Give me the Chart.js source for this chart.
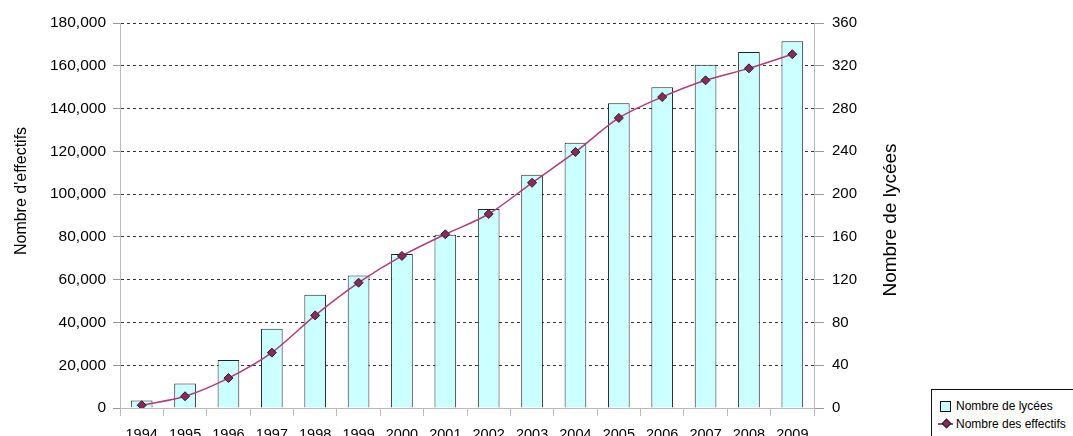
<!DOCTYPE html>
<html>
<head>
<meta charset="utf-8">
<script src="https://cdn.jsdelivr.net/npm/chart.js@4"></script>
<style>
    html, body { margin: 0; padding: 0; background: #fff; overflow: hidden; }
    body { width: 1073px; height: 436px; position: relative; }
    #wrap { position: absolute; left: 0; top: 0; width: 1073px; height: 450px; }
    .legend {
        position: absolute; left: 931px; top: 389px; width: 160px; height: 60px;
        border: 1px solid #111; background: #fff;
        font-family: "Liberation Sans", Arial, sans-serif; font-size: 12px; color: #000;
    }
    .legend .item { position: absolute; left: 0; height: 14px; line-height: 14px; white-space: nowrap; }
    .legend .label { position: absolute; left: 24px; top: 0; }
    .legend .box { position: absolute; left: 8px; top: 2px; width: 9px; height: 9px; border: 1px solid #111; background: #ccffff; }
    .legend .line { position: absolute; left: 6px; top: 6px; width: 15px; height: 1.5px; background: #b03c78; }
    .legend .dot { position: absolute; left: 11px; top: 3px; width: 5px; height: 5px; background: #8b2a5a; border: 1px solid #222; transform: rotate(45deg); }
</style>
</head>
<body>
<div id="wrap"><canvas id="chart" width="1073" height="450"></canvas></div>
<div class="legend" id="legend"></div>
<script>
// Data
const years = ['1994', '1995', '1996', '1997', '1998', '1999', '2000', '2001',
               '2002', '2003', '2004', '2005', '2006', '2007', '2008', '2009'];
const lycees = [7, 23, 45, 74, 106, 124, 144, 162, 186, 218, 248, 285, 300, 321, 333, 343];
const effectifs = [1300, 5500, 14000, 25900, 43300, 58600, 71100, 81200,
                   90700, 105300, 119700, 135600, 145400, 153200, 158800, 165400];
const effectifsTicks = { min: 0, max: 180000, step: 20000 };
const lyceesTicks = { min: 0, max: 360, step: 40 };

const FONT = '"Liberation Sans", Arial, sans-serif';

// Axis titles, both read bottom-to-top
const axisTitles = {
    id: 'axisTitles',
    afterDraw(chart) {
        const ctx = chart.ctx;
        const draw = (text, x, y, size) => {
            ctx.save();
            ctx.translate(x, y);
            ctx.rotate(-Math.PI / 2);
            ctx.font = size + 'px ' + FONT;
            ctx.fillStyle = '#000';
            ctx.textAlign = 'center';
            ctx.textBaseline = 'middle';
            ctx.fillText(text, 0, 0);
            ctx.restore();
        };
        draw("Nombre d'effectifs", 21.5, 191, 16);
        draw('Nombre de lycées', 891, 220, 19);
    }
};

const chart = new Chart(document.getElementById('chart'), {
    type: 'bar',
    data: {
        labels: years,
        datasets: [{
            type: 'bar',
            label: 'Nombre de lycées',
            data: lycees,
            yAxisID: 'y1',
            backgroundColor: '#ccffff',
            borderColor: '#222',
            borderWidth: 1,
            barPercentage: 0.5,
            categoryPercentage: 1.0,
            order: 2
        }, {
            type: 'line',
            label: 'Nombre des effectifs',
            data: effectifs,
            yAxisID: 'y',
            borderColor: '#b03c78',
            borderWidth: 1.5,
            tension: 0.3,
            pointStyle: 'rectRot',
            pointRadius: 4.5,
            pointBackgroundColor: '#8b2a5a',
            pointBorderColor: '#222',
            pointBorderWidth: 1,
            fill: false,
            order: 1
        }]
    },
    options: {
        responsive: false,
        animation: false,
        layout: { padding: { top: 23, left: 0, right: 159, bottom: 12 } },
        plugins: {
            legend: { display: false },
            tooltip: { enabled: false }
        },
        scales: {
            x: {
                offset: true,
                afterFit: s => { s.height = 30; },
                grid: { offset: true, drawOnChartArea: false, tickLength: 8, color: '#bbb', tickColor: '#bbb' },
                border: { color: '#bbb' },
                ticks: { color: '#000', padding: 10, maxRotation: 0, autoSkip: false, font: { family: FONT, size: 14.5 } }
            },
            y: {
                position: 'left',
                min: effectifsTicks.min,
                max: effectifsTicks.max,
                afterFit: s => { s.width = 120; },
                grid: { color: '#333', tickColor: '#999', tickLength: 7, tickBorderDash: [] },
                border: { color: '#bbb', dash: [3, 3] },
                ticks: {
                    stepSize: effectifsTicks.step,
                    color: '#000',
                    padding: 7,
                    font: { family: FONT, size: 15.5 },
                    callback: v => v.toLocaleString('en-US')
                }
            },
            y1: {
                position: 'right',
                min: lyceesTicks.min,
                max: lyceesTicks.max,
                afterFit: s => { s.width = 100; },
                grid: { drawOnChartArea: false, tickColor: '#999', tickLength: 10 },
                border: { color: '#bbb' },
                ticks: { stepSize: lyceesTicks.step, color: '#000', padding: 8, font: { family: FONT, size: 15 } }
            }
        }
    },
    plugins: [axisTitles]
});

// Legend box in the lower right corner
const legendEl = document.getElementById('legend');
legendEl.innerHTML = `
    <div class="item" style="top:9px"><span class="box"></span><span class="label">${chart.data.datasets[0].label}</span></div>
    <div class="item" style="top:27px"><span class="line"></span><span class="dot"></span><span class="label">${chart.data.datasets[1].label}</span></div>
`;
</script>
</body>
</html>
